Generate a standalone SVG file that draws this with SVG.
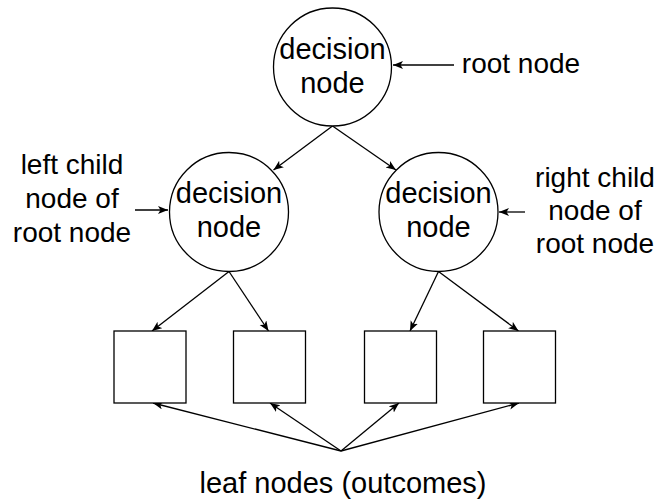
<svg xmlns="http://www.w3.org/2000/svg" width="659" height="502" viewBox="0 0 659 502">
  <defs>
    <marker id="arrow" markerUnits="userSpaceOnUse" markerWidth="12" markerHeight="10" refX="10" refY="4" orient="auto">
      <path d="M0,0 L10,4 L0,8 L2.5,4 Z" fill="#000"/>
    </marker>
    <style>
      .shape { fill: #fff; stroke: #000; stroke-width: 1.3; }
      .edge { fill: none; stroke: #000; stroke-width: 1.3; marker-end: url(#arrow); }
      text { font-family: "Liberation Sans", Arial, Helvetica, sans-serif; font-size: 28px; fill: #000; text-anchor: middle; }
      .node-text { font-size: 29px; }
      .caption { font-size: 29px; }
    </style>
  </defs>
  <rect width="659" height="502" fill="#fff"/>

  <!-- tree connectors and annotation pointers -->
  <g id="connectors">
    <line class="edge" x1="332.5" y1="126" x2="273.5" y2="170"/>
    <line class="edge" x1="332.5" y1="126" x2="396" y2="170"/>
    <line class="edge" x1="229" y1="271.5" x2="152" y2="331"/>
    <line class="edge" x1="229" y1="271.5" x2="268.5" y2="331"/>
    <line class="edge" x1="438.5" y1="271.5" x2="410" y2="331"/>
    <line class="edge" x1="438.5" y1="271.5" x2="518.5" y2="331"/>
    <line class="edge" x1="341" y1="451" x2="153" y2="403"/>
    <line class="edge" x1="341" y1="451" x2="270" y2="403"/>
    <line class="edge" x1="341" y1="451" x2="399" y2="403"/>
    <line class="edge" x1="341" y1="451" x2="519" y2="403"/>
    <line class="edge" x1="454" y1="65" x2="393" y2="65"/>
    <line class="edge" x1="135" y1="210" x2="168" y2="210"/>
    <line class="edge" x1="525" y1="212" x2="499" y2="212"/>
  </g>

  <g id="root-node">
    <circle class="shape" cx="332.5" cy="67" r="59"/>
    <text class="node-text" x="332.5" y="59">decision</text>
    <text class="node-text" x="332.5" y="93">node</text>
  </g>
  <g id="left-child">
    <circle class="shape" cx="229" cy="212" r="59.5"/>
    <text class="node-text" x="229" y="203">decision</text>
    <text class="node-text" x="229" y="237">node</text>
  </g>
  <g id="right-child">
    <circle class="shape" cx="438.5" cy="212" r="59.5"/>
    <text class="node-text" x="438.5" y="203">decision</text>
    <text class="node-text" x="438.5" y="237">node</text>
  </g>

  <g id="leaf-1"><rect class="shape" x="114" y="331" width="72" height="72"/></g>
  <g id="leaf-2"><rect class="shape" x="233.5" y="331" width="72" height="72"/></g>
  <g id="leaf-3"><rect class="shape" x="364.5" y="331" width="72" height="72"/></g>
  <g id="leaf-4"><rect class="shape" x="483.5" y="331" width="72" height="72"/></g>

  <g id="label-root">
    <text x="521" y="73">root node</text>
  </g>
  <g id="label-left">
    <text x="72" y="174">left child</text>
    <text x="72" y="208">node of</text>
    <text x="72" y="242">root node</text>
  </g>
  <g id="label-right">
    <text x="595" y="187">right child</text>
    <text x="595" y="220">node of</text>
    <text x="595" y="253">root node</text>
  </g>
  <g id="label-leaves">
    <text class="caption" x="343" y="493">leaf nodes (outcomes)</text>
  </g>
</svg>
